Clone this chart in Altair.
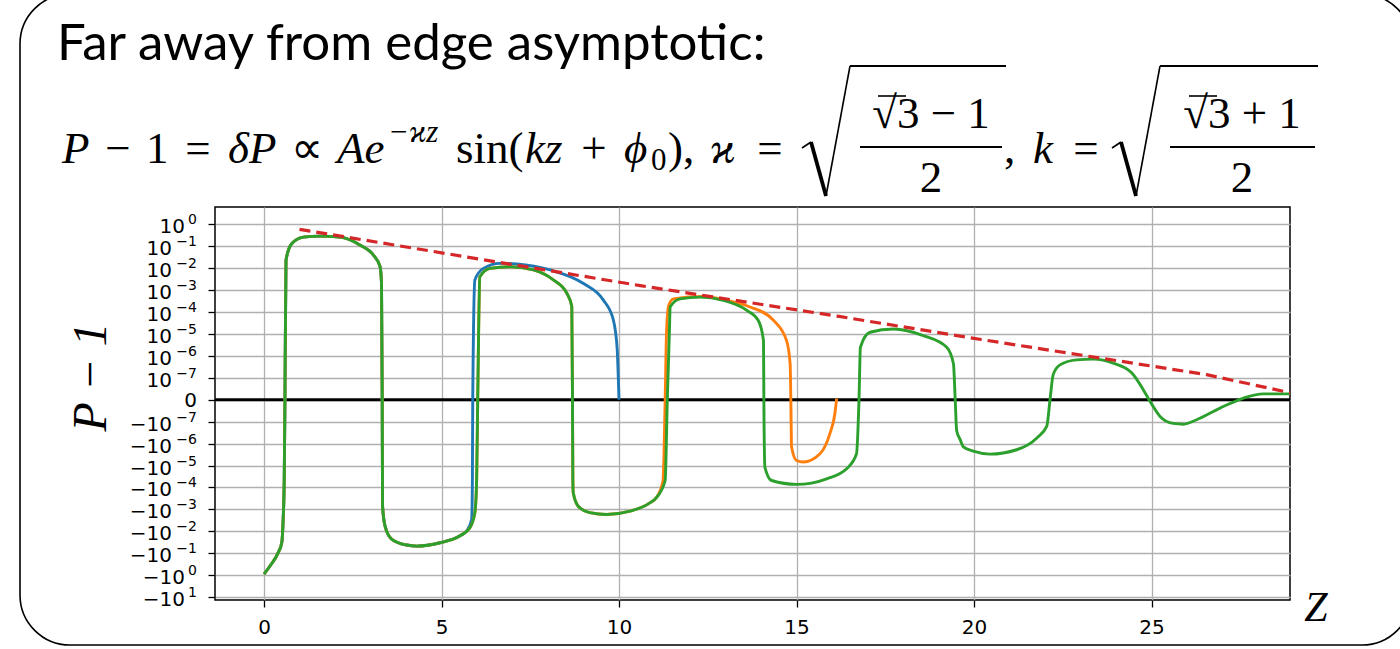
import altair as alt
import pandas as pd

# ---------------------------------------------------------------- data
# P - 1 along z for the three solutions (green is the longest one);
# blue and orange follow green until they branch off.
green_z = [0.00, 0.17, 0.40, 0.50, 0.54, 0.57, 0.59, 0.62, 0.78, 1.11, 1.58, 2.14,
           2.70, 3.08, 3.27, 3.31, 3.33, 3.34, 3.41, 3.60, 4.02, 4.30, 4.96, 5.52,
           5.80, 5.94, 5.99, 6.02, 6.08, 6.37, 6.93, 7.59, 8.15, 8.53, 8.67, 8.69,
           8.70, 8.71, 8.85, 9.18, 9.65, 10.31, 10.87, 11.06, 11.30, 11.36, 11.42,
           11.44, 11.72, 12.28, 12.94, 13.60, 13.92, 14.07, 14.08, 14.11, 14.30,
           15.00, 15.85, 16.41, 16.69, 16.76, 16.80, 17.07, 17.73, 18.57, 19.23,
           19.42, 19.47, 19.51, 19.61, 19.70, 19.98, 20.45, 21.20, 21.77, 22.05,
           22.14, 22.23, 22.42, 22.89, 23.36, 23.92, 24.44, 24.77, 24.96, 25.24,
           25.61, 25.90, 26.27, 26.93, 27.59, 28.15, 28.90]
green_p = [-0.89, -0.38, -0.093, -0.033, -2.8e-3, -4.4e-5, 0.0, 0.023, 0.13, 0.26, 0.29, 0.26,
           0.115, 0.040, 0.0117, 2.0e-3, 0.0, -7.1e-4, -5.8e-3, -0.023, -0.042, -0.047, -0.033, -0.016,
           -6.8e-3, -1.4e-3, -4.4e-5, 0.0, 4.1e-3, 9.8e-3, 0.0117, 8.3e-3, 2.9e-3, 7.2e-4, 1.8e-4, 0.0,
           -4.4e-5, -1.7e-4, -7.1e-4, -1.4e-3, -1.7e-3, -1.2e-3, -5.0e-4, -2.8e-4, -4.8e-5, 0.0, 1.4e-5,
           1.7e-4, 4.0e-4, 4.8e-4, 3.4e-4, 1.2e-4, 4.2e-5, 5.0e-6, 0.0, -1.2e-5, -4.8e-5,
           -7.2e-5, -4.0e-5, -1.4e-5, -2.9e-6, 0.0, 2.5e-6, 1.2e-5, 1.7e-5, 8.5e-6, 2.5e-6,
           4.4e-7, 0.0, -2.5e-7, -6.6e-7, -1.4e-6, -2.2e-6, -3.0e-6, -1.9e-6, -5.5e-7, -1.6e-7,
           0.0, 1.4e-7, 3.9e-7, 6.6e-7, 7.1e-7, 4.7e-7, 1.7e-7, 4.5e-8, -8e-9, -7.6e-8,
           -1.2e-7, -1.3e-7, -9.1e-8, -3.8e-8, 8e-9, 2.7e-8, 2.7e-8]

blue_branch = 24      # shared with green up to z = 5.52
blue_z = green_z[:blue_branch] + [5.71, 5.85, 5.87, 5.88, 5.94, 6.18, 6.65, 7.12, 8.06,
                                  9.00, 9.56, 9.84, 9.95, 9.98, 10.00]
blue_p = green_p[:blue_branch] + [-9.5e-3, -2.8e-3, -4.4e-5, 0.0, 2.9e-3, 9.8e-3, 0.0166, 0.0155, 8.3e-3,
                                  2.0e-3, 3.5e-4, 4.4e-5, 1.9e-6, 1.0e-7, 0.0]

orange_branch = 44    # shared with green up to z = 11.06
orange_z = green_z[:orange_branch] + [11.24, 11.30, 11.34, 11.40, 11.53, 12.37, 13.03, 13.69,
                                      14.35, 14.72, 14.82, 14.84, 14.86, 15.00, 15.19, 15.66,
                                      15.94, 16.08, 16.13]
orange_p = green_p[:orange_branch] + [-4.8e-5, 0.0, 1.4e-5, 2.0e-4, 4.0e-4, 5.1e-4, 3.4e-4, 1.7e-4,
                                      4.2e-5, 5.0e-6, 4.4e-7, 0.0, -1.4e-6, -5.9e-6, -6.9e-6, -2.9e-6,
                                      -3.5e-7, -6.4e-8, 5e-9]

# envelope A e^{-kappa z}
env_z = [1.0, 10.6, 16.2, 20.2, 26.55, 28.9]
env_p = [0.59, 1.6e-3, 6.3e-5, 5.6e-6, 1.4e-7, 3.2e-8]

# symlog tick positions (linthresh 1e-7, one decade per unit) and their labels
tick_pos = list(range(-9, 9))
tick_base = ["−10"] * 9 + ["0"] + ["10"] * 8
tick_exp = ["1", "0", "−1", "−2", "−3", "−4", "−5", "−6", "−7",
            "", "−7", "−6", "−5", "−4", "−3", "−2", "−1", "0"]
x_ticks = [0, 5, 10, 15, 20, 25]

# ---------------------------------------------------------------- layout
LEFT, TOP = 215, 207
W, H = 1075, 393
SERIF = "Liberation Serif"
SANS = "Lato"
TICKFONT = "DejaVu Sans"

SYMLOG = ("datum.p == 0 ? 0 : (abs(datum.p) >= 1e-7 ? "
          "(datum.p > 0 ? 1 : -1) * (log(abs(datum.p) / 1e-7) / LN10 + 1) : datum.p / 1e-7)")

xscale = alt.Scale(domain=[-1.38, 28.9], nice=False, zero=False)
yscale = alt.Scale(domain=[-9.13, 8.79], nice=False, zero=False)

xaxis = alt.Axis(values=x_ticks, title=None, grid=True, labelPadding=10, format="d")
yaxis = alt.Axis(values=tick_pos, title=None, grid=True, labels=False)


def curve(z, p, color, dash=None, width=2.9, interp="monotone"):
    df = pd.DataFrame({"z": z, "p": p})
    kw = dict(color=color, strokeWidth=width, interpolate=interp, clip=True)
    if dash:
        kw["strokeDash"] = dash
    return alt.Chart(df).mark_line(**kw).transform_calculate(lev=SYMLOG).encode(
        x=alt.X("z:Q", scale=xscale, axis=xaxis),
        y=alt.Y("lev:Q", scale=yscale, axis=yaxis),
    )


# y tick labels written as mantissa plus a smaller raised exponent
ticks_df = pd.DataFrame({"lev": tick_pos, "base": tick_base, "exp": tick_exp})
LAB_RIGHT = 197


def tick_labels(condition, right, field, size, dy):
    return alt.Chart(ticks_df).transform_filter(condition).mark_text(
        font=TICKFONT, fontSize=size, align="right", baseline="alphabetic", dy=dy, color="black"
    ).encode(
        x=alt.value(right - LEFT),
        y=alt.Y("lev:Q", scale=yscale, axis=yaxis),
        text=alt.Text(field + ":N"),
    )


ylabels = [
    tick_labels("length(datum.exp) == 1", LAB_RIGHT - 12, "base", 20, 9),
    tick_labels("length(datum.exp) == 2", LAB_RIGHT - 25, "base", 20, 9),
    tick_labels("length(datum.exp) == 0", LAB_RIGHT, "base", 20, 7),
    tick_labels("length(datum.exp) > 0", LAB_RIGHT, "exp", 14, 0),
]

anchor = pd.DataFrame({"a": [0]})


def txt(s, x, y, size, font=SERIF, italic=False, align="left", baseline="alphabetic", angle=0):
    kw = dict(text=s, font=font, fontSize=size, align=align, baseline=baseline, color="black")
    if italic:
        kw["fontStyle"] = "italic"
    if angle:
        kw["angle"] = angle
    return alt.Chart(anchor).mark_text(**kw).encode(
        x=alt.value(x - LEFT), y=alt.value(y - TOP))


def seg(x1, y1, x2, y2, w=1.6):
    return alt.Chart(anchor).mark_rule(color="black", strokeWidth=w, strokeCap="butt").encode(
        x=alt.value(x1 - LEFT), y=alt.value(y1 - TOP),
        x2=alt.value(x2 - LEFT), y2=alt.value(y2 - TOP))


def radical(x0, top, bottom, right):
    # big square-root sign: small hook, thick descender, thin rising stroke, vinculum
    return [
        seg(x0, bottom - 48, x0 + 9, bottom - 54, 1.6),
        seg(x0 + 9, bottom - 54, x0 + 24, bottom, 3.8),
        seg(x0 + 24, bottom, x0 + 48, top, 1.6),
        seg(x0 + 48, top, right, top, 1.8),
    ]


zero_line = alt.Chart(anchor).mark_rule(color="black", strokeWidth=2.8).encode(
    y=alt.Y("v:Q", scale=yscale, axis=yaxis)).transform_calculate(v="0")

# frame around the whole slide block
frame = alt.Chart(anchor).mark_rect(cornerRadius=50, fillOpacity=0, stroke="black",
                                    strokeWidth=1.6).encode(
    x=alt.value(20 - LEFT), x2=alt.value(1412 - LEFT),
    y=alt.value(-6 - TOP), y2=alt.value(645 - TOP))

FS = 45
SUB = 31
BL = 163
formula = [
    txt("Far away from edge asymptotic:", 57, 60, 51, font=SANS),
    txt("P", 62, BL, FS, italic=True),
    txt("−", 118, BL, FS, align="center"),
    txt("1", 146, BL, FS),
    txt("=", 198, BL, FS, align="center"),
    txt("δP", 228, BL, FS, italic=True),
    txt("∝", 307, BL, FS, align="center"),
    txt("Ae", 337, BL, FS, italic=True),
    txt("−ϰz", 388, 142, SUB, italic=True),
    txt("sin(", 456, BL, FS),
    txt("kz", 525, BL, FS, italic=True),
    txt("+", 594, BL, FS, align="center"),
    txt("ϕ", 624, BL, FS, italic=True),
    txt("0", 651, 170, SUB),
    txt("),", 668, BL, FS),
    txt("ϰ", 710, BL, FS, italic=True),
    txt("=", 770, BL, FS, align="center"),
    txt("√3 − 1", 931, 128, FS, align="center"),
    seg(878, 96, 906, 96, 1.6),
    seg(860, 147, 1002, 147, 1.8),
    txt("2", 931, 192, FS, align="center"),
    txt(",", 1004, BL, FS),
    txt("k", 1033, BL, FS, italic=True),
    txt("=", 1086, BL, FS, align="center"),
    txt("√3 + 1", 1242, 128, FS, align="center"),
    seg(1189, 96, 1217, 96, 1.6),
    seg(1170, 147, 1315, 147, 1.8),
    txt("2", 1242, 192, FS, align="center"),
] + radical(802, 66, 196, 1006) + radical(1112, 66, 196, 1318)

axis_titles = [
    txt("P − 1", 92, 377, 48, italic=True, align="center", baseline="middle", angle=270),
    txt("Z", 1316, 621, 42, italic=True, align="center"),
]

chart = alt.layer(
    zero_line,
    curve(blue_z, blue_p, "#1f77b4"),
    curve(orange_z, orange_p, "#ff7f0e"),
    curve(green_z, green_p, "#2ca02c"),
    curve(env_z, env_p, "#d62728", dash=[11, 6], width=3.2, interp="linear"),
    *ylabels,
    frame,
    *formula,
    *axis_titles,
).properties(
    width=W, height=H,
    autosize=alt.AutoSizeParams(type="none"),
    padding={"left": LEFT, "top": TOP, "right": 1400 - LEFT - W, "bottom": 649 - TOP - H},
    background="white",
).configure_view(
    stroke="black", strokeWidth=1.5
).configure_axis(
    labelFont=TICKFONT, labelFontSize=20, labelColor="black",
    tickColor="black", tickSize=7, tickWidth=1.3, domain=False,
    gridColor="#b0b0b0", gridWidth=1.3,
)

chart.save("out.html", embed_options={"renderer": "svg", "actions": False})
